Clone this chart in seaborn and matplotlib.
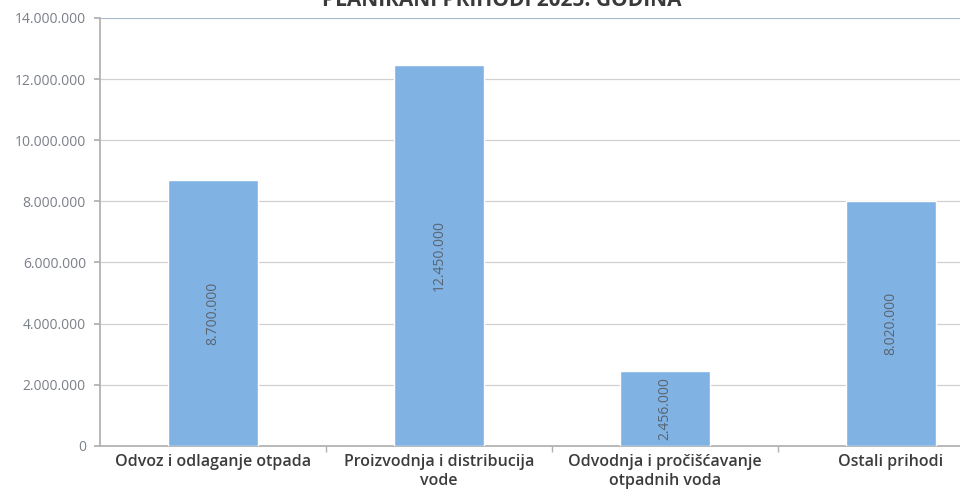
import pandas as pd
import matplotlib.pyplot as plt
import seaborn as sns
from matplotlib.ticker import FuncFormatter, MultipleLocator

# chart data
categories = ["Odvoz i odlaganje otpada", "Proizvodnja i distribucija\nvode",
              "Odvodnja i pročišćavanje\notpadnih voda", "Ostali prihodi"]
values = [8700000, 12450000, 2456000, 8020000]
value_labels = ["8.700.000", "12.450.000", "2.456.000", "8.020.000"]
title = "PLANIRANI PRIHODI 2025. GODINA"

df = pd.DataFrame({"Kategorija": categories, "Iznos": values})

sns.set_theme(style="white")
plt.rcParams["font.family"] = ["Open Sans", "DejaVu Sans"]

fig = plt.figure(figsize=(9.6, 4.96), dpi=100)
ax = fig.add_axes([0.104, 0.101, 0.942, 0.863])

sns.barplot(data=df, x="Kategorija", y="Iznos", color="#80b3e3",
            saturation=1, width=0.4, ax=ax, zorder=3)

# value labels inside the bars, rotated
for i, (v, lab) in enumerate(zip(values, value_labels)):
    ax.text(i, v / 2, lab, rotation=90, ha="center", va="center",
            fontsize=10, color="#5a6470", zorder=4)

ax.set_ylim(0, 14000000)
ax.set_xlim(-0.5, 3.5)
ax.yaxis.set_major_locator(MultipleLocator(2000000))
ax.yaxis.set_major_formatter(FuncFormatter(lambda v, p: f"{int(v):,}".replace(",", ".")))
ax.grid(axis="y", color="#d0d0d0", linewidth=0.9, zorder=0)

ax.set_xlabel("")
ax.set_ylabel("")
ax.tick_params(axis="y", labelsize=10, labelcolor="#7a7f88", length=4, color="#b0b0b0",
               left=True, pad=6)
ax.tick_params(axis="x", labelsize=11.5, labelcolor="#3c3c3c", length=0, pad=6)
for lab in ax.get_xticklabels():
    lab.set_fontweight("semibold")

# category separator ticks
ax.set_xticks([0.5, 1.5, 2.5], minor=True)
ax.tick_params(axis="x", which="minor", length=4, color="#b0b0b0", bottom=True)

for side in ["top", "right"]:
    ax.spines[side].set_visible(False)
ax.spines["left"].set_color("#b0b0b0")
ax.spines["bottom"].set_color("#b0b0b0")
ax.axhline(14000000, color="#9fb6cc", linewidth=1.2, zorder=1)

fig.text(0.523, 1.0, title, ha="center", va="center", fontsize=15,
         fontweight="bold", color="#3a3a3a")

plt.savefig("out.png", dpi=100)
plt.close()
